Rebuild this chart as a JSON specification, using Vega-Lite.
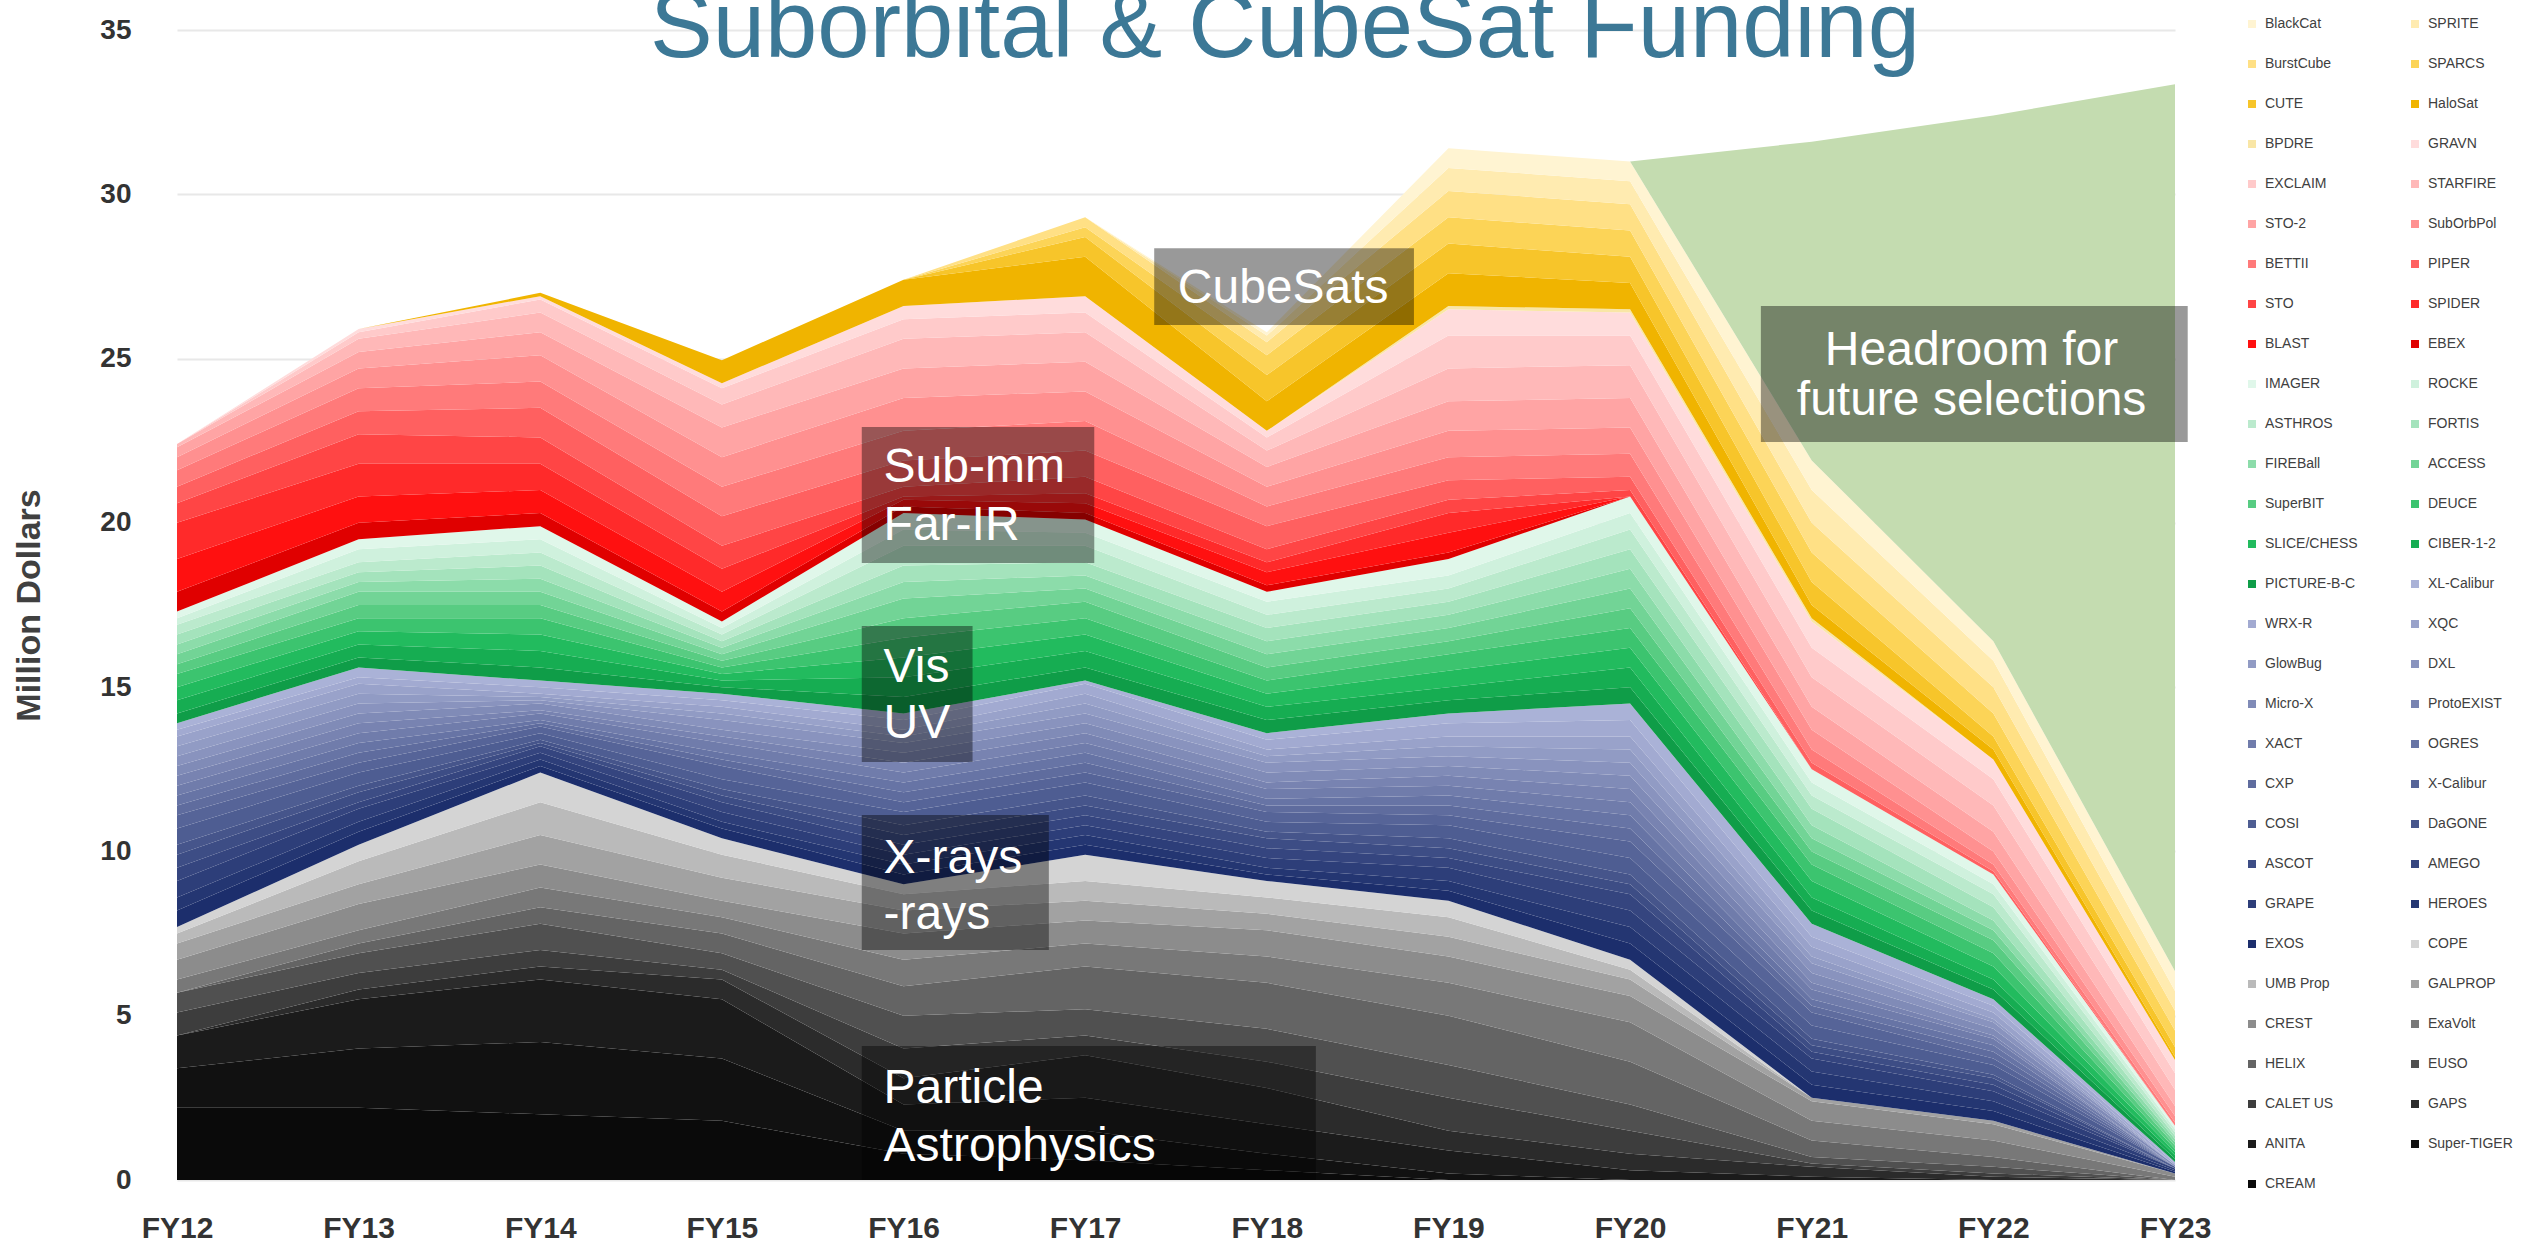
{
"$schema": "https://vega.github.io/schema/vega-lite/v6.json",
"width": 1998, "height": 1150,
"autosize": {"type": "none"},
"padding": {"left": 177, "top": 30, "right": 367, "bottom": 65},
"background": "white",
"title": {"text": "Suborbital & CubeSat Funding", "font": "Liberation Sans", "fontSize": 94, "fontWeight": "normal", "color": "#3c7896", "anchor": "middle", "frame": "group", "dx": 109, "baseline": "alphabetic", "offset": 0, "dy": 135},
"config": {"view": {"stroke": null}, "font": "Liberation Sans"},
"datasets": {
"series": [
{"s":"CREAM","k":1},{"s":"Super-TIGER","k":2},{"s":"ANITA","k":3},{"s":"GAPS","k":4},{"s":"CALET US","k":5},{"s":"EUSO","k":6},{"s":"HELIX","k":7},{"s":"ExaVolt","k":8},{"s":"CREST","k":9},{"s":"GALPROP","k":10},{"s":"UMB Prop","k":11},{"s":"COPE","k":12},
{"s":"EXOS","k":13},{"s":"HEROES","k":14},{"s":"GRAPE","k":15},{"s":"AMEGO","k":16},{"s":"ASCOT","k":17},{"s":"DaGONE","k":18},{"s":"COSI","k":19},{"s":"X-Calibur","k":20},{"s":"CXP","k":21},{"s":"OGRES","k":22},{"s":"XACT","k":23},{"s":"ProtoEXIST","k":24},{"s":"Micro-X","k":25},{"s":"DXL","k":26},{"s":"GlowBug","k":27},{"s":"XQC","k":28},{"s":"WRX-R","k":29},{"s":"XL-Calibur","k":30},
{"s":"PICTURE-B-C","k":31},{"s":"CIBER-1-2","k":32},{"s":"SLICE/CHESS","k":33},{"s":"DEUCE","k":34},{"s":"SuperBIT","k":35},{"s":"ACCESS","k":36},{"s":"FIREBall","k":37},{"s":"FORTIS","k":38},{"s":"ASTHROS","k":39},{"s":"ROCKE","k":40},{"s":"IMAGER","k":41},
{"s":"EBEX","k":42},{"s":"BLAST","k":43},{"s":"SPIDER","k":44},{"s":"STO","k":45},{"s":"PIPER","k":46},{"s":"BETTII","k":47},{"s":"SubOrbPol","k":48},{"s":"STO-2","k":49},{"s":"STARFIRE","k":50},{"s":"EXCLAIM","k":51},{"s":"GRAVN","k":52},
{"s":"BPDRE","k":53},{"s":"HaloSat","k":54},{"s":"CUTE","k":55},{"s":"SPARCS","k":56},{"s":"BurstCube","k":57},{"s":"SPRITE","k":58},{"s":"BlackCat","k":59},{"s":"Headroom","k":60}
],
"vals": [
{"s":"CREAM","x":12,"v":2.2},{"s":"CREAM","x":13,"v":2.2},{"s":"CREAM","x":14,"v":2.0},{"s":"CREAM","x":15,"v":1.8},{"s":"CREAM","x":16,"v":0.8},{"s":"CREAM","x":17,"v":0.6},{"s":"CREAM","x":18,"v":0.3},{"s":"CREAM","x":19,"v":0},{"s":"CREAM","x":20,"v":0},{"s":"CREAM","x":21,"v":0},{"s":"CREAM","x":22,"v":0},{"s":"CREAM","x":23,"v":0},
{"s":"Super-TIGER","x":12,"v":1.2},{"s":"Super-TIGER","x":13,"v":1.8},{"s":"Super-TIGER","x":14,"v":2.2},{"s":"Super-TIGER","x":15,"v":1.9},{"s":"Super-TIGER","x":16,"v":0.7},{"s":"Super-TIGER","x":17,"v":0.9},{"s":"Super-TIGER","x":18,"v":0.5},{"s":"Super-TIGER","x":19,"v":0.2},{"s":"Super-TIGER","x":20,"v":0},{"s":"Super-TIGER","x":21,"v":0},{"s":"Super-TIGER","x":22,"v":0},{"s":"Super-TIGER","x":23,"v":0},
{"s":"ANITA","x":12,"v":1.0},{"s":"ANITA","x":13,"v":1.5},{"s":"ANITA","x":14,"v":1.9},{"s":"ANITA","x":15,"v":1.8},{"s":"ANITA","x":16,"v":0.8},{"s":"ANITA","x":17,"v":1.0},{"s":"ANITA","x":18,"v":0.9},{"s":"ANITA","x":19,"v":0.7},{"s":"ANITA","x":20,"v":0.3},{"s":"ANITA","x":21,"v":0.1},{"s":"ANITA","x":22,"v":0},{"s":"ANITA","x":23,"v":0},
{"s":"GAPS","x":12,"v":0},{"s":"GAPS","x":13,"v":0.3},{"s":"GAPS","x":14,"v":0.4},{"s":"GAPS","x":15,"v":0.6},{"s":"GAPS","x":16,"v":0.8},{"s":"GAPS","x":17,"v":1.3},{"s":"GAPS","x":18,"v":1.1},{"s":"GAPS","x":19,"v":0.6},{"s":"GAPS","x":20,"v":0.5},{"s":"GAPS","x":21,"v":0.3},{"s":"GAPS","x":22,"v":0.1},{"s":"GAPS","x":23,"v":0},
{"s":"CALET US","x":12,"v":0.7},{"s":"CALET US","x":13,"v":0.5},{"s":"CALET US","x":14,"v":0.5},{"s":"CALET US","x":15,"v":0.3},{"s":"CALET US","x":16,"v":0.9},{"s":"CALET US","x":17,"v":0.6},{"s":"CALET US","x":18,"v":0.8},{"s":"CALET US","x":19,"v":1.0},{"s":"CALET US","x":20,"v":0.7},{"s":"CALET US","x":21,"v":0.1},{"s":"CALET US","x":22,"v":0.1},{"s":"CALET US","x":23,"v":0},
{"s":"EUSO","x":12,"v":0.6},{"s":"EUSO","x":13,"v":0.6},{"s":"EUSO","x":14,"v":0.8},{"s":"EUSO","x":15,"v":0.5},{"s":"EUSO","x":16,"v":1.0},{"s":"EUSO","x":17,"v":0.8},{"s":"EUSO","x":18,"v":1.0},{"s":"EUSO","x":19,"v":1.0},{"s":"EUSO","x":20,"v":0.8},{"s":"EUSO","x":21,"v":0.2},{"s":"EUSO","x":22,"v":0.2},{"s":"EUSO","x":23,"v":0},
{"s":"HELIX","x":12,"v":0},{"s":"HELIX","x":13,"v":0.3},{"s":"HELIX","x":14,"v":0.5},{"s":"HELIX","x":15,"v":0.6},{"s":"HELIX","x":16,"v":0.9},{"s":"HELIX","x":17,"v":1.3},{"s":"HELIX","x":18,"v":1.4},{"s":"HELIX","x":19,"v":1.5},{"s":"HELIX","x":20,"v":1.3},{"s":"HELIX","x":21,"v":0.5},{"s":"HELIX","x":22,"v":0.3},{"s":"HELIX","x":23,"v":0},
{"s":"ExaVolt","x":12,"v":0.4},{"s":"ExaVolt","x":13,"v":0.4},{"s":"ExaVolt","x":14,"v":0.6},{"s":"ExaVolt","x":15,"v":0.5},{"s":"ExaVolt","x":16,"v":0.8},{"s":"ExaVolt","x":17,"v":0.7},{"s":"ExaVolt","x":18,"v":0.8},{"s":"ExaVolt","x":19,"v":1.0},{"s":"ExaVolt","x":20,"v":1.2},{"s":"ExaVolt","x":21,"v":0.6},{"s":"ExaVolt","x":22,"v":0.5},{"s":"ExaVolt","x":23,"v":0.1},
{"s":"CREST","x":12,"v":0.6},{"s":"CREST","x":13,"v":0.8},{"s":"CREST","x":14,"v":0.7},{"s":"CREST","x":15,"v":0.5},{"s":"CREST","x":16,"v":0.8},{"s":"CREST","x":17,"v":0.7},{"s":"CREST","x":18,"v":0.8},{"s":"CREST","x":19,"v":0.8},{"s":"CREST","x":20,"v":0.8},{"s":"CREST","x":21,"v":0.6},{"s":"CREST","x":22,"v":0.5},{"s":"CREST","x":23,"v":0.1},
{"s":"GALPROP","x":12,"v":0.5},{"s":"GALPROP","x":13,"v":0.6},{"s":"GALPROP","x":14,"v":0.9},{"s":"GALPROP","x":15,"v":0.7},{"s":"GALPROP","x":16,"v":0.7},{"s":"GALPROP","x":17,"v":0.6},{"s":"GALPROP","x":18,"v":0.5},{"s":"GALPROP","x":19,"v":0.6},{"s":"GALPROP","x":20,"v":0.5},{"s":"GALPROP","x":21,"v":0.1},{"s":"GALPROP","x":22,"v":0.1},{"s":"GALPROP","x":23,"v":0},
{"s":"UMB Prop","x":12,"v":0.3},{"s":"UMB Prop","x":13,"v":0.7},{"s":"UMB Prop","x":14,"v":1.0},{"s":"UMB Prop","x":15,"v":0.7},{"s":"UMB Prop","x":16,"v":0.5},{"s":"UMB Prop","x":17,"v":0.6},{"s":"UMB Prop","x":18,"v":0.5},{"s":"UMB Prop","x":19,"v":0.6},{"s":"UMB Prop","x":20,"v":0.3},{"s":"UMB Prop","x":21,"v":0},{"s":"UMB Prop","x":22,"v":0},{"s":"UMB Prop","x":23,"v":0},
{"s":"COPE","x":12,"v":0.2},{"s":"COPE","x":13,"v":0.5},{"s":"COPE","x":14,"v":0.9},{"s":"COPE","x":15,"v":0.5},{"s":"COPE","x":16,"v":0.3},{"s":"COPE","x":17,"v":0.8},{"s":"COPE","x":18,"v":0.5},{"s":"COPE","x":19,"v":0.5},{"s":"COPE","x":20,"v":0.3},{"s":"COPE","x":21,"v":0},{"s":"COPE","x":22,"v":0},{"s":"COPE","x":23,"v":0},
{"s":"EXOS","x":12,"v":0.5},{"s":"EXOS","x":13,"v":0.4},{"s":"EXOS","x":14,"v":0.2},{"s":"EXOS","x":15,"v":0.3},{"s":"EXOS","x":16,"v":0.3},{"s":"EXOS","x":17,"v":0.3},{"s":"EXOS","x":18,"v":0.2},{"s":"EXOS","x":19,"v":0.3},{"s":"EXOS","x":20,"v":0.5},{"s":"EXOS","x":21,"v":0.4},{"s":"EXOS","x":22,"v":0.3},{"s":"EXOS","x":23,"v":0.05},
{"s":"HEROES","x":12,"v":0.4},{"s":"HEROES","x":13,"v":0.3},{"s":"HEROES","x":14,"v":0.2},{"s":"HEROES","x":15,"v":0.2},{"s":"HEROES","x":16,"v":0.3},{"s":"HEROES","x":17,"v":0.3},{"s":"HEROES","x":18,"v":0.2},{"s":"HEROES","x":19,"v":0.3},{"s":"HEROES","x":20,"v":0.5},{"s":"HEROES","x":21,"v":0.4},{"s":"HEROES","x":22,"v":0.3},{"s":"HEROES","x":23,"v":0.05},
{"s":"GRAPE","x":12,"v":0.5},{"s":"GRAPE","x":13,"v":0.4},{"s":"GRAPE","x":14,"v":0.2},{"s":"GRAPE","x":15,"v":0.3},{"s":"GRAPE","x":16,"v":0.3},{"s":"GRAPE","x":17,"v":0.3},{"s":"GRAPE","x":18,"v":0.3},{"s":"GRAPE","x":19,"v":0.4},{"s":"GRAPE","x":20,"v":0.5},{"s":"GRAPE","x":21,"v":0.4},{"s":"GRAPE","x":22,"v":0.3},{"s":"GRAPE","x":23,"v":0.05},
{"s":"AMEGO","x":12,"v":0.4},{"s":"AMEGO","x":13,"v":0.2},{"s":"AMEGO","x":14,"v":0.2},{"s":"AMEGO","x":15,"v":0.3},{"s":"AMEGO","x":16,"v":0.3},{"s":"AMEGO","x":17,"v":0.3},{"s":"AMEGO","x":18,"v":0.3},{"s":"AMEGO","x":19,"v":0.3},{"s":"AMEGO","x":20,"v":0.5},{"s":"AMEGO","x":21,"v":0.2},{"s":"AMEGO","x":22,"v":0.2},{"s":"AMEGO","x":23,"v":0},
{"s":"ASCOT","x":12,"v":0.4},{"s":"ASCOT","x":13,"v":0.3},{"s":"ASCOT","x":14,"v":0.1},{"s":"ASCOT","x":15,"v":0.2},{"s":"ASCOT","x":16,"v":0.3},{"s":"ASCOT","x":17,"v":0.3},{"s":"ASCOT","x":18,"v":0.3},{"s":"ASCOT","x":19,"v":0.3},{"s":"ASCOT","x":20,"v":0.3},{"s":"ASCOT","x":21,"v":0.2},{"s":"ASCOT","x":22,"v":0.2},{"s":"ASCOT","x":23,"v":0},
{"s":"DaGONE","x":12,"v":0.3},{"s":"DaGONE","x":13,"v":0.2},{"s":"DaGONE","x":14,"v":0.1},{"s":"DaGONE","x":15,"v":0.2},{"s":"DaGONE","x":16,"v":0.3},{"s":"DaGONE","x":17,"v":0.3},{"s":"DaGONE","x":18,"v":0.2},{"s":"DaGONE","x":19,"v":0.3},{"s":"DaGONE","x":20,"v":0.3},{"s":"DaGONE","x":21,"v":0.2},{"s":"DaGONE","x":22,"v":0.1},{"s":"DaGONE","x":23,"v":0},
{"s":"COSI","x":12,"v":0.5},{"s":"COSI","x":13,"v":0.4},{"s":"COSI","x":14,"v":0.2},{"s":"COSI","x":15,"v":0.3},{"s":"COSI","x":16,"v":0.4},{"s":"COSI","x":17,"v":0.4},{"s":"COSI","x":18,"v":0.3},{"s":"COSI","x":19,"v":0.4},{"s":"COSI","x":20,"v":0.5},{"s":"COSI","x":21,"v":0.4},{"s":"COSI","x":22,"v":0.3},{"s":"COSI","x":23,"v":0.05},
{"s":"X-Calibur","x":12,"v":0.4},{"s":"X-Calibur","x":13,"v":0.3},{"s":"X-Calibur","x":14,"v":0.2},{"s":"X-Calibur","x":15,"v":0.4},{"s":"X-Calibur","x":16,"v":0.3},{"s":"X-Calibur","x":17,"v":0.3},{"s":"X-Calibur","x":18,"v":0.3},{"s":"X-Calibur","x":19,"v":0.3},{"s":"X-Calibur","x":20,"v":0.5},{"s":"X-Calibur","x":21,"v":0.4},{"s":"X-Calibur","x":22,"v":0.2},{"s":"X-Calibur","x":23,"v":0},
{"s":"CXP","x":12,"v":0.3},{"s":"CXP","x":13,"v":0.3},{"s":"CXP","x":14,"v":0.1},{"s":"CXP","x":15,"v":0.2},{"s":"CXP","x":16,"v":0.3},{"s":"CXP","x":17,"v":0.3},{"s":"CXP","x":18,"v":0.2},{"s":"CXP","x":19,"v":0.3},{"s":"CXP","x":20,"v":0.4},{"s":"CXP","x":21,"v":0.2},{"s":"CXP","x":22,"v":0.2},{"s":"CXP","x":23,"v":0},
{"s":"OGRES","x":12,"v":0.3},{"s":"OGRES","x":13,"v":0.3},{"s":"OGRES","x":14,"v":0.1},{"s":"OGRES","x":15,"v":0.2},{"s":"OGRES","x":16,"v":0.3},{"s":"OGRES","x":17,"v":0.3},{"s":"OGRES","x":18,"v":0.2},{"s":"OGRES","x":19,"v":0.3},{"s":"OGRES","x":20,"v":0.4},{"s":"OGRES","x":21,"v":0.2},{"s":"OGRES","x":22,"v":0.2},{"s":"OGRES","x":23,"v":0},
{"s":"XACT","x":12,"v":0.3},{"s":"XACT","x":13,"v":0.3},{"s":"XACT","x":14,"v":0.2},{"s":"XACT","x":15,"v":0.3},{"s":"XACT","x":16,"v":0.3},{"s":"XACT","x":17,"v":0.3},{"s":"XACT","x":18,"v":0.3},{"s":"XACT","x":19,"v":0.3},{"s":"XACT","x":20,"v":0.4},{"s":"XACT","x":21,"v":0.3},{"s":"XACT","x":22,"v":0.2},{"s":"XACT","x":23,"v":0},
{"s":"ProtoEXIST","x":12,"v":0.3},{"s":"ProtoEXIST","x":13,"v":0.3},{"s":"ProtoEXIST","x":14,"v":0.1},{"s":"ProtoEXIST","x":15,"v":0.2},{"s":"ProtoEXIST","x":16,"v":0.3},{"s":"ProtoEXIST","x":17,"v":0.3},{"s":"ProtoEXIST","x":18,"v":0.2},{"s":"ProtoEXIST","x":19,"v":0.3},{"s":"ProtoEXIST","x":20,"v":0.4},{"s":"ProtoEXIST","x":21,"v":0.2},{"s":"ProtoEXIST","x":22,"v":0.1},{"s":"ProtoEXIST","x":23,"v":0},
{"s":"Micro-X","x":12,"v":0.3},{"s":"Micro-X","x":13,"v":0.3},{"s":"Micro-X","x":14,"v":0.2},{"s":"Micro-X","x":15,"v":0.2},{"s":"Micro-X","x":16,"v":0.3},{"s":"Micro-X","x":17,"v":0.3},{"s":"Micro-X","x":18,"v":0.3},{"s":"Micro-X","x":19,"v":0.3},{"s":"Micro-X","x":20,"v":0.4},{"s":"Micro-X","x":21,"v":0.3},{"s":"Micro-X","x":22,"v":0.2},{"s":"Micro-X","x":23,"v":0.05},
{"s":"DXL","x":12,"v":0.3},{"s":"DXL","x":13,"v":0.3},{"s":"DXL","x":14,"v":0.1},{"s":"DXL","x":15,"v":0.3},{"s":"DXL","x":16,"v":0.3},{"s":"DXL","x":17,"v":0.3},{"s":"DXL","x":18,"v":0.3},{"s":"DXL","x":19,"v":0.3},{"s":"DXL","x":20,"v":0.4},{"s":"DXL","x":21,"v":0.3},{"s":"DXL","x":22,"v":0.2},{"s":"DXL","x":23,"v":0},
{"s":"GlowBug","x":12,"v":0.3},{"s":"GlowBug","x":13,"v":0.3},{"s":"GlowBug","x":14,"v":0.1},{"s":"GlowBug","x":15,"v":0.2},{"s":"GlowBug","x":16,"v":0.2},{"s":"GlowBug","x":17,"v":0.3},{"s":"GlowBug","x":18,"v":0.2},{"s":"GlowBug","x":19,"v":0.3},{"s":"GlowBug","x":20,"v":0.4},{"s":"GlowBug","x":21,"v":0.2},{"s":"GlowBug","x":22,"v":0.1},{"s":"GlowBug","x":23,"v":0},
{"s":"XQC","x":12,"v":0.3},{"s":"XQC","x":13,"v":0.3},{"s":"XQC","x":14,"v":0.1},{"s":"XQC","x":15,"v":0.2},{"s":"XQC","x":16,"v":0.2},{"s":"XQC","x":17,"v":0.3},{"s":"XQC","x":18,"v":0.2},{"s":"XQC","x":19,"v":0.3},{"s":"XQC","x":20,"v":0.4},{"s":"XQC","x":21,"v":0.3},{"s":"XQC","x":22,"v":0.2},{"s":"XQC","x":23,"v":0},
{"s":"WRX-R","x":12,"v":0.2},{"s":"WRX-R","x":13,"v":0.2},{"s":"WRX-R","x":14,"v":0.2},{"s":"WRX-R","x":15,"v":0.2},{"s":"WRX-R","x":16,"v":0.3},{"s":"WRX-R","x":17,"v":0.3},{"s":"WRX-R","x":18,"v":0.3},{"s":"WRX-R","x":19,"v":0.4},{"s":"WRX-R","x":20,"v":0.5},{"s":"WRX-R","x":21,"v":0.3},{"s":"WRX-R","x":22,"v":0.2},{"s":"WRX-R","x":23,"v":0.05},
{"s":"XL-Calibur","x":12,"v":0.2},{"s":"XL-Calibur","x":13,"v":0.3},{"s":"XL-Calibur","x":14,"v":0.2},{"s":"XL-Calibur","x":15,"v":0.2},{"s":"XL-Calibur","x":16,"v":0.2},{"s":"XL-Calibur","x":17,"v":0.1},{"s":"XL-Calibur","x":18,"v":0.2},{"s":"XL-Calibur","x":19,"v":0.3},{"s":"XL-Calibur","x":20,"v":0.5},{"s":"XL-Calibur","x":21,"v":0.4},{"s":"XL-Calibur","x":22,"v":0.2},{"s":"XL-Calibur","x":23,"v":0.05},
{"s":"PICTURE-B-C","x":12,"v":0.3},{"s":"PICTURE-B-C","x":13,"v":0.3},{"s":"PICTURE-B-C","x":14,"v":0.4},{"s":"PICTURE-B-C","x":15,"v":0.2},{"s":"PICTURE-B-C","x":16,"v":0.5},{"s":"PICTURE-B-C","x":17,"v":0.4},{"s":"PICTURE-B-C","x":18,"v":0.4},{"s":"PICTURE-B-C","x":19,"v":0.4},{"s":"PICTURE-B-C","x":20,"v":0.5},{"s":"PICTURE-B-C","x":21,"v":0.4},{"s":"PICTURE-B-C","x":22,"v":0.3},{"s":"PICTURE-B-C","x":23,"v":0.1},
{"s":"CIBER-1-2","x":12,"v":0.4},{"s":"CIBER-1-2","x":13,"v":0.4},{"s":"CIBER-1-2","x":14,"v":0.5},{"s":"CIBER-1-2","x":15,"v":0.2},{"s":"CIBER-1-2","x":16,"v":0.6},{"s":"CIBER-1-2","x":17,"v":0.5},{"s":"CIBER-1-2","x":18,"v":0.4},{"s":"CIBER-1-2","x":19,"v":0.4},{"s":"CIBER-1-2","x":20,"v":0.6},{"s":"CIBER-1-2","x":21,"v":0.4},{"s":"CIBER-1-2","x":22,"v":0.3},{"s":"CIBER-1-2","x":23,"v":0.1},
{"s":"SLICE/CHESS","x":12,"v":0.4},{"s":"SLICE/CHESS","x":13,"v":0.4},{"s":"SLICE/CHESS","x":14,"v":0.5},{"s":"SLICE/CHESS","x":15,"v":0.2},{"s":"SLICE/CHESS","x":16,"v":0.6},{"s":"SLICE/CHESS","x":17,"v":0.5},{"s":"SLICE/CHESS","x":18,"v":0.4},{"s":"SLICE/CHESS","x":19,"v":0.5},{"s":"SLICE/CHESS","x":20,"v":0.6},{"s":"SLICE/CHESS","x":21,"v":0.5},{"s":"SLICE/CHESS","x":22,"v":0.4},{"s":"SLICE/CHESS","x":23,"v":0.1},
{"s":"DEUCE","x":12,"v":0.4},{"s":"DEUCE","x":13,"v":0.4},{"s":"DEUCE","x":14,"v":0.5},{"s":"DEUCE","x":15,"v":0.2},{"s":"DEUCE","x":16,"v":0.6},{"s":"DEUCE","x":17,"v":0.5},{"s":"DEUCE","x":18,"v":0.4},{"s":"DEUCE","x":19,"v":0.5},{"s":"DEUCE","x":20,"v":0.6},{"s":"DEUCE","x":21,"v":0.5},{"s":"DEUCE","x":22,"v":0.4},{"s":"DEUCE","x":23,"v":0.1},
{"s":"SuperBIT","x":12,"v":0.3},{"s":"SuperBIT","x":13,"v":0.4},{"s":"SuperBIT","x":14,"v":0.4},{"s":"SuperBIT","x":15,"v":0.2},{"s":"SuperBIT","x":16,"v":0.6},{"s":"SuperBIT","x":17,"v":0.5},{"s":"SuperBIT","x":18,"v":0.4},{"s":"SuperBIT","x":19,"v":0.4},{"s":"SuperBIT","x":20,"v":0.6},{"s":"SuperBIT","x":21,"v":0.4},{"s":"SuperBIT","x":22,"v":0.4},{"s":"SuperBIT","x":23,"v":0.1},
{"s":"ACCESS","x":12,"v":0.3},{"s":"ACCESS","x":13,"v":0.4},{"s":"ACCESS","x":14,"v":0.4},{"s":"ACCESS","x":15,"v":0.2},{"s":"ACCESS","x":16,"v":0.6},{"s":"ACCESS","x":17,"v":0.4},{"s":"ACCESS","x":18,"v":0.4},{"s":"ACCESS","x":19,"v":0.4},{"s":"ACCESS","x":20,"v":0.6},{"s":"ACCESS","x":21,"v":0.4},{"s":"ACCESS","x":22,"v":0.3},{"s":"ACCESS","x":23,"v":0.1},
{"s":"FIREBall","x":12,"v":0.3},{"s":"FIREBall","x":13,"v":0.3},{"s":"FIREBall","x":14,"v":0.4},{"s":"FIREBall","x":15,"v":0.2},{"s":"FIREBall","x":16,"v":0.5},{"s":"FIREBall","x":17,"v":0.4},{"s":"FIREBall","x":18,"v":0.4},{"s":"FIREBall","x":19,"v":0.4},{"s":"FIREBall","x":20,"v":0.6},{"s":"FIREBall","x":21,"v":0.4},{"s":"FIREBall","x":22,"v":0.3},{"s":"FIREBall","x":23,"v":0.1},
{"s":"FORTIS","x":12,"v":0.3},{"s":"FORTIS","x":13,"v":0.3},{"s":"FORTIS","x":14,"v":0.4},{"s":"FORTIS","x":15,"v":0.2},{"s":"FORTIS","x":16,"v":0.5},{"s":"FORTIS","x":17,"v":0.4},{"s":"FORTIS","x":18,"v":0.4},{"s":"FORTIS","x":19,"v":0.4},{"s":"FORTIS","x":20,"v":0.6},{"s":"FORTIS","x":21,"v":0.5},{"s":"FORTIS","x":22,"v":0.4},{"s":"FORTIS","x":23,"v":0.1},
{"s":"ASTHROS","x":12,"v":0.3},{"s":"ASTHROS","x":13,"v":0.3},{"s":"ASTHROS","x":14,"v":0.4},{"s":"ASTHROS","x":15,"v":0.2},{"s":"ASTHROS","x":16,"v":0.6},{"s":"ASTHROS","x":17,"v":0.5},{"s":"ASTHROS","x":18,"v":0.4},{"s":"ASTHROS","x":19,"v":0.4},{"s":"ASTHROS","x":20,"v":0.6},{"s":"ASTHROS","x":21,"v":0.4},{"s":"ASTHROS","x":22,"v":0.4},{"s":"ASTHROS","x":23,"v":0.1},
{"s":"ROCKE","x":12,"v":0.2},{"s":"ROCKE","x":13,"v":0.4},{"s":"ROCKE","x":14,"v":0.4},{"s":"ROCKE","x":15,"v":0.2},{"s":"ROCKE","x":16,"v":0.5},{"s":"ROCKE","x":17,"v":0.4},{"s":"ROCKE","x":18,"v":0.4},{"s":"ROCKE","x":19,"v":0.4},{"s":"ROCKE","x":20,"v":0.5},{"s":"ROCKE","x":21,"v":0.4},{"s":"ROCKE","x":22,"v":0.3},{"s":"ROCKE","x":23,"v":0.1},
{"s":"IMAGER","x":12,"v":0.2},{"s":"IMAGER","x":13,"v":0.3},{"s":"IMAGER","x":14,"v":0.4},{"s":"IMAGER","x":15,"v":0.2},{"s":"IMAGER","x":16,"v":0.5},{"s":"IMAGER","x":17,"v":0.4},{"s":"IMAGER","x":18,"v":0.3},{"s":"IMAGER","x":19,"v":0.5},{"s":"IMAGER","x":20,"v":0.5},{"s":"IMAGER","x":21,"v":0.4},{"s":"IMAGER","x":22,"v":0.3},{"s":"IMAGER","x":23,"v":0.1},
{"s":"EBEX","x":12,"v":0.6},{"s":"EBEX","x":13,"v":0.5},{"s":"EBEX","x":14,"v":0.4},{"s":"EBEX","x":15,"v":0.3},{"s":"EBEX","x":16,"v":0.2},{"s":"EBEX","x":17,"v":0.2},{"s":"EBEX","x":18,"v":0.2},{"s":"EBEX","x":19,"v":0.2},{"s":"EBEX","x":20,"v":0},{"s":"EBEX","x":21,"v":0},{"s":"EBEX","x":22,"v":0},{"s":"EBEX","x":23,"v":0},
{"s":"BLAST","x":12,"v":1.0},{"s":"BLAST","x":13,"v":0.8},{"s":"BLAST","x":14,"v":0.7},{"s":"BLAST","x":15,"v":0.6},{"s":"BLAST","x":16,"v":0.2},{"s":"BLAST","x":17,"v":0.3},{"s":"BLAST","x":18,"v":0.4},{"s":"BLAST","x":19,"v":0.6},{"s":"BLAST","x":20,"v":0},{"s":"BLAST","x":21,"v":0},{"s":"BLAST","x":22,"v":0},{"s":"BLAST","x":23,"v":0},
{"s":"SPIDER","x":12,"v":1.1},{"s":"SPIDER","x":13,"v":1.0},{"s":"SPIDER","x":14,"v":0.8},{"s":"SPIDER","x":15,"v":0.7},{"s":"SPIDER","x":16,"v":0.1},{"s":"SPIDER","x":17,"v":0.3},{"s":"SPIDER","x":18,"v":0.3},{"s":"SPIDER","x":19,"v":0.6},{"s":"SPIDER","x":20,"v":0},{"s":"SPIDER","x":21,"v":0},{"s":"SPIDER","x":22,"v":0},{"s":"SPIDER","x":23,"v":0},
{"s":"STO","x":12,"v":0.6},{"s":"STO","x":13,"v":0.9},{"s":"STO","x":14,"v":0.8},{"s":"STO","x":15,"v":0.7},{"s":"STO","x":16,"v":0.3},{"s":"STO","x":17,"v":0.5},{"s":"STO","x":18,"v":0.4},{"s":"STO","x":19,"v":0.4},{"s":"STO","x":20,"v":0.2},{"s":"STO","x":21,"v":0},{"s":"STO","x":22,"v":0},{"s":"STO","x":23,"v":0},
{"s":"PIPER","x":12,"v":0.5},{"s":"PIPER","x":13,"v":0.7},{"s":"PIPER","x":14,"v":0.9},{"s":"PIPER","x":15,"v":0.9},{"s":"PIPER","x":16,"v":0.8},{"s":"PIPER","x":17,"v":0.8},{"s":"PIPER","x":18,"v":0.7},{"s":"PIPER","x":19,"v":0.6},{"s":"PIPER","x":20,"v":0.4},{"s":"PIPER","x":21,"v":0.2},{"s":"PIPER","x":22,"v":0.1},{"s":"PIPER","x":23,"v":0},
{"s":"BETTII","x":12,"v":0.5},{"s":"BETTII","x":13,"v":0.7},{"s":"BETTII","x":14,"v":0.8},{"s":"BETTII","x":15,"v":0.9},{"s":"BETTII","x":16,"v":0.9},{"s":"BETTII","x":17,"v":0.9},{"s":"BETTII","x":18,"v":0.6},{"s":"BETTII","x":19,"v":0.7},{"s":"BETTII","x":20,"v":0.7},{"s":"BETTII","x":21,"v":0.4},{"s":"BETTII","x":22,"v":0.2},{"s":"BETTII","x":23,"v":0.1},
{"s":"SubOrbPol","x":12,"v":0.4},{"s":"SubOrbPol","x":13,"v":0.6},{"s":"SubOrbPol","x":14,"v":0.8},{"s":"SubOrbPol","x":15,"v":0.9},{"s":"SubOrbPol","x":16,"v":1.0},{"s":"SubOrbPol","x":17,"v":0.9},{"s":"SubOrbPol","x":18,"v":0.6},{"s":"SubOrbPol","x":19,"v":0.8},{"s":"SubOrbPol","x":20,"v":0.8},{"s":"SubOrbPol","x":21,"v":0.6},{"s":"SubOrbPol","x":22,"v":0.4},{"s":"SubOrbPol","x":23,"v":0.2},
{"s":"STO-2","x":12,"v":0.3},{"s":"STO-2","x":13,"v":0.5},{"s":"STO-2","x":14,"v":0.7},{"s":"STO-2","x":15,"v":0.9},{"s":"STO-2","x":16,"v":0.9},{"s":"STO-2","x":17,"v":0.9},{"s":"STO-2","x":18,"v":0.6},{"s":"STO-2","x":19,"v":0.9},{"s":"STO-2","x":20,"v":0.9},{"s":"STO-2","x":21,"v":0.7},{"s":"STO-2","x":22,"v":0.6},{"s":"STO-2","x":23,"v":0.3},
{"s":"STARFIRE","x":12,"v":0.1},{"s":"STARFIRE","x":13,"v":0.4},{"s":"STARFIRE","x":14,"v":0.6},{"s":"STARFIRE","x":15,"v":0.7},{"s":"STARFIRE","x":16,"v":0.9},{"s":"STARFIRE","x":17,"v":0.9},{"s":"STARFIRE","x":18,"v":0.5},{"s":"STARFIRE","x":19,"v":1.0},{"s":"STARFIRE","x":20,"v":1.0},{"s":"STARFIRE","x":21,"v":0.9},{"s":"STARFIRE","x":22,"v":0.8},{"s":"STARFIRE","x":23,"v":0.5},
{"s":"EXCLAIM","x":12,"v":0},{"s":"EXCLAIM","x":13,"v":0.2},{"s":"EXCLAIM","x":14,"v":0.4},{"s":"EXCLAIM","x":15,"v":0.5},{"s":"EXCLAIM","x":16,"v":0.6},{"s":"EXCLAIM","x":17,"v":0.6},{"s":"EXCLAIM","x":18,"v":0.4},{"s":"EXCLAIM","x":19,"v":1.0},{"s":"EXCLAIM","x":20,"v":0.9},{"s":"EXCLAIM","x":21,"v":0.9},{"s":"EXCLAIM","x":22,"v":0.8},{"s":"EXCLAIM","x":23,"v":0.5},
{"s":"GRAVN","x":12,"v":0},{"s":"GRAVN","x":13,"v":0.1},{"s":"GRAVN","x":14,"v":0.1},{"s":"GRAVN","x":15,"v":0.15},{"s":"GRAVN","x":16,"v":0.4},{"s":"GRAVN","x":17,"v":0.5},{"s":"GRAVN","x":18,"v":0.2},{"s":"GRAVN","x":19,"v":0.8},{"s":"GRAVN","x":20,"v":0.7},{"s":"GRAVN","x":21,"v":0.8},{"s":"GRAVN","x":22,"v":0.6},{"s":"GRAVN","x":23,"v":0.4},
{"s":"BPDRE","x":12,"v":0},{"s":"BPDRE","x":13,"v":0},{"s":"BPDRE","x":14,"v":0},{"s":"BPDRE","x":15,"v":0},{"s":"BPDRE","x":16,"v":0},{"s":"BPDRE","x":17,"v":0},{"s":"BPDRE","x":18,"v":0},{"s":"BPDRE","x":19,"v":0.1},{"s":"BPDRE","x":20,"v":0.1},{"s":"BPDRE","x":21,"v":0.1},{"s":"BPDRE","x":22,"v":0},{"s":"BPDRE","x":23,"v":0},
{"s":"HaloSat","x":12,"v":0},{"s":"HaloSat","x":13,"v":0},{"s":"HaloSat","x":14,"v":0.1},{"s":"HaloSat","x":15,"v":0.7},{"s":"HaloSat","x":16,"v":0.8},{"s":"HaloSat","x":17,"v":1.2},{"s":"HaloSat","x":18,"v":0.9},{"s":"HaloSat","x":19,"v":1.0},{"s":"HaloSat","x":20,"v":0.8},{"s":"HaloSat","x":21,"v":0.4},{"s":"HaloSat","x":22,"v":0.3},{"s":"HaloSat","x":23,"v":0.1},
{"s":"CUTE","x":12,"v":0},{"s":"CUTE","x":13,"v":0},{"s":"CUTE","x":14,"v":0},{"s":"CUTE","x":15,"v":0},{"s":"CUTE","x":16,"v":0},{"s":"CUTE","x":17,"v":0.6},{"s":"CUTE","x":18,"v":0.8},{"s":"CUTE","x":19,"v":0.9},{"s":"CUTE","x":20,"v":0.8},{"s":"CUTE","x":21,"v":0.7},{"s":"CUTE","x":22,"v":0.4},{"s":"CUTE","x":23,"v":0.3},
{"s":"SPARCS","x":12,"v":0},{"s":"SPARCS","x":13,"v":0},{"s":"SPARCS","x":14,"v":0},{"s":"SPARCS","x":15,"v":0},{"s":"SPARCS","x":16,"v":0},{"s":"SPARCS","x":17,"v":0.3},{"s":"SPARCS","x":18,"v":0.6},{"s":"SPARCS","x":19,"v":0.8},{"s":"SPARCS","x":20,"v":0.8},{"s":"SPARCS","x":21,"v":0.9},{"s":"SPARCS","x":22,"v":0.7},{"s":"SPARCS","x":23,"v":0.5},
{"s":"BurstCube","x":12,"v":0},{"s":"BurstCube","x":13,"v":0},{"s":"BurstCube","x":14,"v":0},{"s":"BurstCube","x":15,"v":0},{"s":"BurstCube","x":16,"v":0},{"s":"BurstCube","x":17,"v":0.3},{"s":"BurstCube","x":18,"v":0.4},{"s":"BurstCube","x":19,"v":0.8},{"s":"BurstCube","x":20,"v":0.8},{"s":"BurstCube","x":21,"v":0.9},{"s":"BurstCube","x":22,"v":0.8},{"s":"BurstCube","x":23,"v":0.6},
{"s":"SPRITE","x":12,"v":0},{"s":"SPRITE","x":13,"v":0},{"s":"SPRITE","x":14,"v":0},{"s":"SPRITE","x":15,"v":0},{"s":"SPRITE","x":16,"v":0},{"s":"SPRITE","x":17,"v":0},{"s":"SPRITE","x":18,"v":0.2},{"s":"SPRITE","x":19,"v":0.7},{"s":"SPRITE","x":20,"v":0.7},{"s":"SPRITE","x":21,"v":1.0},{"s":"SPRITE","x":22,"v":0.8},{"s":"SPRITE","x":23,"v":0.6},
{"s":"BlackCat","x":12,"v":0},{"s":"BlackCat","x":13,"v":0},{"s":"BlackCat","x":14,"v":0},{"s":"BlackCat","x":15,"v":0},{"s":"BlackCat","x":16,"v":0},{"s":"BlackCat","x":17,"v":0},{"s":"BlackCat","x":18,"v":0.1},{"s":"BlackCat","x":19,"v":0.6},{"s":"BlackCat","x":20,"v":0.6},{"s":"BlackCat","x":21,"v":0.9},{"s":"BlackCat","x":22,"v":0.6},{"s":"BlackCat","x":23,"v":0.6},
{"s":"Headroom","x":12,"v":0},{"s":"Headroom","x":13,"v":0},{"s":"Headroom","x":14,"v":0},{"s":"Headroom","x":15,"v":0},{"s":"Headroom","x":16,"v":0},{"s":"Headroom","x":17,"v":0},{"s":"Headroom","x":18,"v":0},{"s":"Headroom","x":19,"v":0},{"s":"Headroom","x":20,"v":0},{"s":"Headroom","x":21,"v":9.7},{"s":"Headroom","x":22,"v":16.0},{"s":"Headroom","x":23,"v":27.0}
],
"boxes": [
{"t":"CubeSats","x0":17.38,"x1":18.81,"y0":26.02,"y1":28.36},
{"t":"Sub-mm Far-IR","x0":15.77,"x1":17.05,"y0":18.78,"y1":22.92},
{"t":"Vis UV","x0":15.77,"x1":16.38,"y0":12.72,"y1":16.86},
{"t":"X-rays -rays","x0":15.77,"x1":16.8,"y0":7.0,"y1":11.11},
{"t":"Particle Astrophysics","x0":15.77,"x1":18.27,"y0":0,"y1":4.08},
{"t":"Headroom for future selections","x0":20.72,"x1":23.07,"y0":22.46,"y1":26.6}
],
"lblL": [
{"t":"Sub-mm","x":15.89,"y":21.24},{"t":"Far-IR","x":15.89,"y":19.48},
{"t":"Vis","x":15.89,"y":15.15},{"t":"UV","x":15.89,"y":13.45},
{"t":"X-rays","x":15.89,"y":9.34},{"t":"-rays","x":15.89,"y":7.64},
{"t":"Particle","x":15.89,"y":2.34},{"t":"Astrophysics","x":15.89,"y":0.58}
],
"lblC": [
{"t":"CubeSats","x":18.09,"y":26.69},
{"t":"Headroom for","x":21.88,"y":24.8},
{"t":"future selections","x":21.88,"y":23.28}
]
},
"layer": [
{
"data": {"name": "vals"},
"transform": [{"lookup": "s", "from": {"data": {"name": "series"}, "key": "s", "fields": ["k"]}}],
"mark": {"type": "area", "interpolate": "linear"},
"encoding": {
"x": {"field": "x", "type": "quantitative", "scale": {"domain": [12, 23], "nice": false, "zero": false},
 "axis": {"title": null, "values": [12,13,14,15,16,17,18,19,20,21,22,23], "labelExpr": "'FY' + datum.value", "grid": false, "domain": false, "ticks": false, "labelFont": "Liberation Sans", "labelFontWeight": "bold", "labelFontSize": 30, "labelColor": "#333333", "labelPadding": 33, "labelFlush": false, "labelOverlap": false, "labelBound": false}},
"y": {"field": "v", "type": "quantitative", "stack": "zero", "scale": {"domain": [0, 35], "nice": false},
 "axis": {"title": "Million Dollars", "values": [0,5,10,15,20,25,30,35], "grid": true, "gridColor": "#e8e8e8", "gridWidth": 2, "domain": false, "ticks": false, "labelFont": "Liberation Sans", "labelFontWeight": "bold", "labelFontSize": 28, "labelColor": "#333333", "labelPadding": 46, "titleFont": "Liberation Sans", "titleFontSize": 34, "titleFontWeight": "bold", "titleColor": "#404040", "titleAngle": -90, "titleAlign": "center", "titleBaseline": "middle", "titleX": -148, "titleY": 575}},
"color": {"field": "s", "type": "nominal",
 "scale": {"domain": ["CREAM","Super-TIGER","ANITA","GAPS","CALET US","EUSO","HELIX","ExaVolt","CREST","GALPROP","UMB Prop","COPE","EXOS","HEROES","GRAPE","AMEGO","ASCOT","DaGONE","COSI","X-Calibur","CXP","OGRES","XACT","ProtoEXIST","Micro-X","DXL","GlowBug","XQC","WRX-R","XL-Calibur","PICTURE-B-C","CIBER-1-2","SLICE/CHESS","DEUCE","SuperBIT","ACCESS","FIREBall","FORTIS","ASTHROS","ROCKE","IMAGER","EBEX","BLAST","SPIDER","STO","PIPER","BETTII","SubOrbPol","STO-2","STARFIRE","EXCLAIM","GRAVN","BPDRE","HaloSat","CUTE","SPARCS","BurstCube","SPRITE","BlackCat","Headroom"],
  "range": ["#0a0a0a","#111111","#1b1b1b","#2b2b2b","#3d3d3d","#505050","#646464","#787878","#8c8c8c","#a2a2a2","#bababa","#d4d4d4",
  "#1c2e6c","#243672","#2d3e79","#35457f","#3d4d85","#46558b","#4e5d92","#566498","#5f6c9e","#6774a5","#707cab","#7883b1","#808bb7","#8993be","#919bc4","#99a2ca","#a2aad1","#aab2d7",
  "#0f9d48","#16ad52","#22bb5e","#3cc46f","#58cc82","#72d496","#8cdcaa","#a4e3bc","#bbeacd","#cff1dd","#e0f7ea",
  "#e00000","#ff1010","#ff2a2a","#ff4545","#ff6060","#ff7a7a","#ff9090","#ffa4a4","#ffb8b8","#ffcaca","#ffdcdc",
  "#f9e6a6","#f0b400","#f7c52a","#fcd457","#ffe085","#ffebb0","#fff4d2",
  "#c4dcb0"]},
 "legend": {"orient": "none", "legendX": 2068, "legendY": -13, "columns": 2, "title": null, "padding": 0, "offset": 0, "symbolLimit": 100,
  "values": ["BlackCat","BurstCube","CUTE","BPDRE","EXCLAIM","STO-2","BETTII","STO","BLAST","IMAGER","ASTHROS","FIREBall","SuperBIT","SLICE/CHESS","PICTURE-B-C","WRX-R","GlowBug","Micro-X","XACT","CXP","COSI","ASCOT","GRAPE","EXOS","UMB Prop","CREST","HELIX","CALET US","ANITA","CREAM",
   "SPRITE","SPARCS","HaloSat","GRAVN","STARFIRE","SubOrbPol","PIPER","SPIDER","EBEX","ROCKE","FORTIS","ACCESS","DEUCE","CIBER-1-2","XL-Calibur","XQC","DXL","ProtoEXIST","OGRES","X-Calibur","DaGONE","AMEGO","HEROES","COPE","GALPROP","ExaVolt","EUSO","GAPS","Super-TIGER"],
  "symbolType": "square", "symbolSize": 64, "symbolStrokeWidth": 0, "labelFont": "Liberation Sans", "labelFontSize": 14, "labelColor": "#404040", "labelOffset": 6, "rowPadding": 26, "columnPadding": 50, "gridAlign": "all", "labelLimit": 200}},
"order": {"field": "k", "type": "quantitative"}
}
},
{
"data": {"name": "boxes"},
"mark": {"type": "rect", "color": "#000000", "opacity": 0.4},
"encoding": {"x": {"field": "x0", "type": "quantitative"}, "x2": {"field": "x1"}, "y": {"field": "y0", "type": "quantitative"}, "y2": {"field": "y1"}}
},
{
"data": {"name": "lblL"},
"mark": {"type": "text", "align": "left", "baseline": "alphabetic", "color": "#ffffff", "fontSize": 48, "font": "Liberation Sans"},
"encoding": {"x": {"field": "x", "type": "quantitative"}, "y": {"field": "y", "type": "quantitative"}, "text": {"field": "t"}}
},
{
"data": {"name": "lblC"},
"mark": {"type": "text", "align": "center", "baseline": "alphabetic", "color": "#ffffff", "fontSize": 48, "font": "Liberation Sans"},
"encoding": {"x": {"field": "x", "type": "quantitative"}, "y": {"field": "y", "type": "quantitative"}, "text": {"field": "t"}}
}
]
}
